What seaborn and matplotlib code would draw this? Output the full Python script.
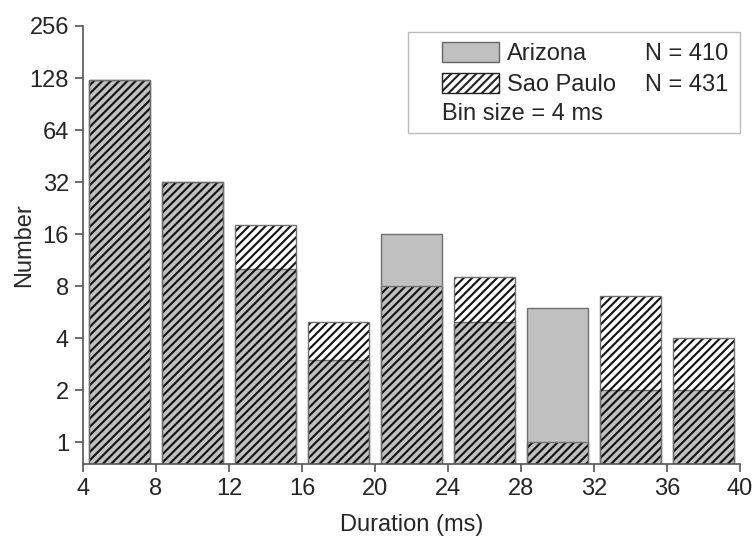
import matplotlib
matplotlib.use("Agg")
import matplotlib.pyplot as plt
import seaborn as sns
import pandas as pd
from matplotlib.patches import Patch, Rectangle
from matplotlib.ticker import FixedLocator, FixedFormatter, NullLocator

# ---- data ----
bin_centers = [6, 10, 14, 18, 22, 26, 30, 34, 38]
arizona = [124, 32, 10, 3, 16, 5, 6, 2, 2]
sao_paulo = [124, 32, 18, 5, 8, 9, 1, 7, 4]
x_ticks = [4, 8, 12, 16, 20, 24, 28, 32, 36, 40]
y_ticks = [1, 2, 4, 8, 16, 32, 64, 128, 256]
y_tick_labels = ["1", "2", "4", "8", "16", "32", "64", "128", "256"]
legend_labels = ["Arizona", "Sao Paulo"]
legend_counts = ["N = 410", "N = 431"]
bin_note = "Bin size = 4 ms"

sns.set_theme(style="ticks")
plt.rcParams["font.family"] = ["Liberation Sans", "DejaVu Sans"]
plt.rcParams["hatch.linewidth"] = 1.5

GRAY_FILL = "#c0c0c0"
EDGE = "#707070"
TEXT = "#262626"
FS = 17
HATCH = "////"

fig = plt.figure(figsize=(7.56, 5.40), dpi=100)
ax = fig.add_axes([83 / 756, 1 - 464 / 540, 657 / 756, 438 / 540])

df = pd.DataFrame({"center": bin_centers, "Arizona": arizona, "Sao Paulo": sao_paulo})

# Arizona: solid gray bars
sns.barplot(data=df, x="center", y="Arizona", native_scale=True, width=0.825,
            color=GRAY_FILL, saturation=1, edgecolor=EDGE, linewidth=1.0,
            errorbar=None, ax=ax)
# Sao Paulo: transparent hatched bars on top
sns.barplot(data=df, x="center", y="Sao Paulo", native_scale=True, width=0.825,
            fill=False, color="#111111", hatch=HATCH, linewidth=0,
            errorbar=None, ax=ax)
# Sao Paulo outlines
sns.barplot(data=df, x="center", y="Sao Paulo", native_scale=True, width=0.825,
            fill=False, color=EDGE, linewidth=1.0,
            errorbar=None, ax=ax)

ax.set_yscale("log", base=2)
ax.set_ylim(0.75, 256)
ax.set_xlim(4, 40)
ax.yaxis.set_major_locator(FixedLocator(y_ticks))
ax.yaxis.set_major_formatter(FixedFormatter(y_tick_labels))
ax.yaxis.set_minor_locator(NullLocator())
ax.set_xticks(x_ticks)
ax.set_xticklabels([str(t) for t in x_ticks])

for s in ["top", "right"]:
    ax.spines[s].set_visible(False)
for s in ["left", "bottom"]:
    ax.spines[s].set_color("#555555")
    ax.spines[s].set_linewidth(1.2)
ax.tick_params(axis="both", direction="out", length=6, width=1.2,
               color="#555555", labelsize=FS, labelcolor=TEXT, pad=4)

ax.set_xlabel("Duration (ms)", fontsize=FS, color=TEXT, labelpad=10)
ax.set_ylabel("Number", fontsize=FS, color=TEXT, labelpad=-4)

# legend (entries), frame drawn separately to match the wide box
handles = [
    Patch(facecolor=GRAY_FILL, edgecolor="#666666", linewidth=1.0),
    Patch(facecolor="white", edgecolor="#222222", hatch=HATCH, linewidth=1.0),
    Patch(facecolor="none", edgecolor="none"),
]
leg = ax.legend(handles, legend_labels + [""], loc="upper left",
                bbox_to_anchor=((440 - 83) / 657 - 0.012, 0.986),
                fontsize=FS, handlelength=2.4, handleheight=0.9,
                handletextpad=0.35, labelspacing=0.34, borderpad=0.42,
                borderaxespad=0, frameon=False)
for t in leg.get_texts():
    t.set_color(TEXT)

# place the extra legend texts and box once the legend has been laid out
fig.canvas.draw()
inv = ax.transAxes.inverted()
row_artists = [leg.get_texts()[0], leg.get_texts()[1], leg.legend_handles[2]]
row_y = []
for art in row_artists:
    bb = art.get_window_extent()
    row_y.append(inv.transform((0, (bb.y0 + bb.y1) / 2))[1])
for i, lab in enumerate(legend_counts):
    ax.text(0.855, row_y[i], lab, transform=ax.transAxes, va="center",
            ha="left", fontsize=FS, color=TEXT, zorder=6)
hb = leg.legend_handles[0].get_window_extent()
ax.text(inv.transform((hb.x0, 0))[0], row_y[2], bin_note, transform=ax.transAxes,
        va="center", ha="left", fontsize=FS, color=TEXT, zorder=6)

lb = leg.get_window_extent()
(_, ly0), (_, ly1) = inv.transform([(lb.x0, lb.y0), (lb.x1, lb.y1)])
ly0 += 4 / 438
box_x0 = (408 - 83) / 657
ax.add_patch(Rectangle((box_x0, ly0), 1.0 - box_x0, ly1 - ly0, transform=ax.transAxes,
                       facecolor="white", edgecolor="#bbbbbb", linewidth=1.0,
                       zorder=4, clip_on=False))

fig.savefig("out.png", dpi=100)
